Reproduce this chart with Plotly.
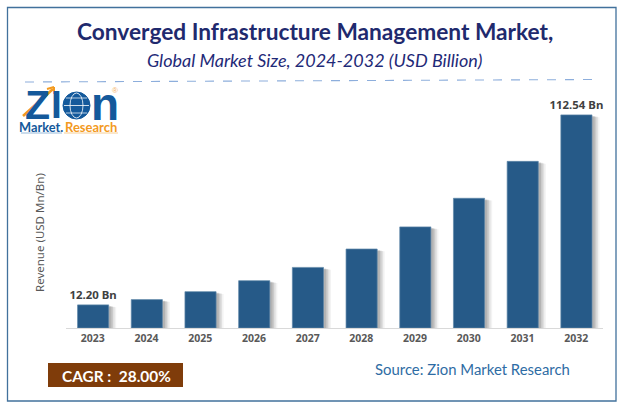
import plotly.graph_objects as go

# Data
years = ["2023", "2024", "2025", "2026", "2027", "2028", "2029", "2030", "2031", "2032"]
revenue = [12.20, 15.0, 19.2, 25.0, 32.0, 41.7, 53.4, 68.5, 88.0, 112.54]
bar_labels = ["12.20 Bn", "", "", "", "", "", "", "", "", "112.54 Bn"]

W, H = 624, 409
L, R, T, B = 66, 21, 100, 81
BLUE = "#265A88"
px_x = lambda p: (p - L) / (W - L - R)
px_y = lambda p: 1 - (p - T) / (H - T - B)

fig = go.Figure()

# soft shadow layers
for dx, drop, alpha in [(0.14, 1.2, 0.07), (0.11, 1.0, 0.12), (0.08, 0.8, 0.16), (0.05, 0.6, 0.2)]:
    fig.add_bar(x=years, y=[max(v - drop, 0) for v in revenue], width=0.58, offset=-0.285 + dx,
                marker=dict(color=f"rgba(90,90,90,{alpha})", line_width=0), hoverinfo="skip", showlegend=False)

fig.add_bar(x=years, y=revenue, width=0.58, offset=-0.285, text=bar_labels, textposition="outside",
            cliponaxis=False, textangle=0, constraintext="none",
            textfont=dict(family="Noto Sans", size=11.4, color="#404040", weight="bold"),
            marker=dict(color=BLUE, line=dict(color="#5f86a8", width=0.7)), showlegend=False)

def rect(x0, y0, x1, y1, **kw):
    return dict(type="rect", xref="paper", yref="paper", x0=px_x(x0), x1=px_x(x1),
                y0=px_y(y1), y1=px_y(y0), **kw)

def line(x0, y0, x1, y1, color, width=1, dash="solid"):
    return dict(type="line", xref="paper", yref="paper", x0=px_x(x0), x1=px_x(x1),
                y0=px_y(y0), y1=px_y(y1), line=dict(color=color, width=width, dash=dash))

shapes = [
    rect(7.5, 7.5, 616, 401, line=dict(color="#41719C", width=1.3), fillcolor="rgba(0,0,0,0)"),
    line(25, 82, 597, 79.5, "#8DAEDC", 1.1, "dash"),
    rect(48, 363, 183, 387, fillcolor="#7F3C0A", line_width=0),
    # logo: globe
    dict(type="circle", xref="paper", yref="paper", x0=px_x(63), x1=px_x(90), y0=px_y(119), y1=px_y(92),
         fillcolor="#14599B", line=dict(color="#14599B", width=1)),
    dict(type="circle", xref="paper", yref="paper", x0=px_x(70), x1=px_x(83), y0=px_y(118), y1=px_y(93),
         fillcolor="rgba(0,0,0,0)", line=dict(color="white", width=0.8)),
    line(64, 105.5, 89, 105.5, "white", 0.8),
    line(66, 98, 87, 98, "white", 0.7),
    line(66, 113, 87, 113, "white", 0.7),
    # logo: underline
    line(21, 133, 62, 133, "#7FA8D0", 0.8),
    line(64, 133, 118, 133, "#F5C27A", 0.8),
    # logo: arrow rising across the Z
    line(23, 116, 53, 89, "#F39A1F", 2.6),
    line(47, 89, 54, 87, "#F39A1F", 2),
    line(54, 87, 54, 94, "#F39A1F", 2),
]

def note(text, x, y, size, color, family="Lato", anchor="center", **kw):
    return dict(text=text, xref="paper", yref="paper", x=px_x(x), y=px_y(y), showarrow=False,
                xanchor=anchor, yanchor="middle", font=dict(family=family, size=size, color=color), **kw)

annotations = [
    note("<b>Converged Infrastructure Management Market,</b>", 315, 32, 22.7, "#1F2A6E"),
    note("<i>Global Market Size, 2024-2032 (USD Billion)</i>", 314, 60, 18, "#1F2A78"),
    note("Revenue (USD Mn/Bn)", 39, 233, 11.5, "#595959", family="Noto Sans", textangle=-90),
    note("<b>CAGR :  28.00%</b>", 116, 375.5, 15.4, "#FFFFFF"),
    note("Source: Zion Market Research", 472, 369, 14.9, "#2E6CA4"),
    # logo text
    note("<b>Z</b>", 37, 105, 41, "#14599B", family="Liberation Sans"),
    note("<b>I</b>", 56, 105, 39, "#14599B", family="Liberation Sans"),
    note("<b>n</b>", 104.5, 104, 46, "#14599B", family="Liberation Sans"),
    note("<b>Market.</b>", 41, 127, 12.8, "#14599B", family="Lato"),
    note("<b>Research</b>", 90.5, 127, 13, "#F39A1F", family="Lato"),
    note("®", 114.5, 90, 8, "#F5B266", family="Liberation Sans"),
]

fig.update_layout(
    width=W, height=H, margin=dict(l=L, r=R, t=T, b=B, autoexpand=False),
    paper_bgcolor="white", plot_bgcolor="white", barmode="overlay",
    shapes=shapes, annotations=annotations,
    xaxis=dict(type="category", showgrid=False, ticks="", showline=True, linecolor="#D9D9D9", linewidth=1,
               tickfont=dict(family="Noto Sans", size=10.5, color="#595959", weight="bold"), fixedrange=True),
    yaxis=dict(range=[0, 120.4], visible=False, fixedrange=True),
)

fig.write_html("out.html", config={"displayModeBar": False},
               post_script="document.body.style.margin='0';document.body.style.overflow='hidden';")
